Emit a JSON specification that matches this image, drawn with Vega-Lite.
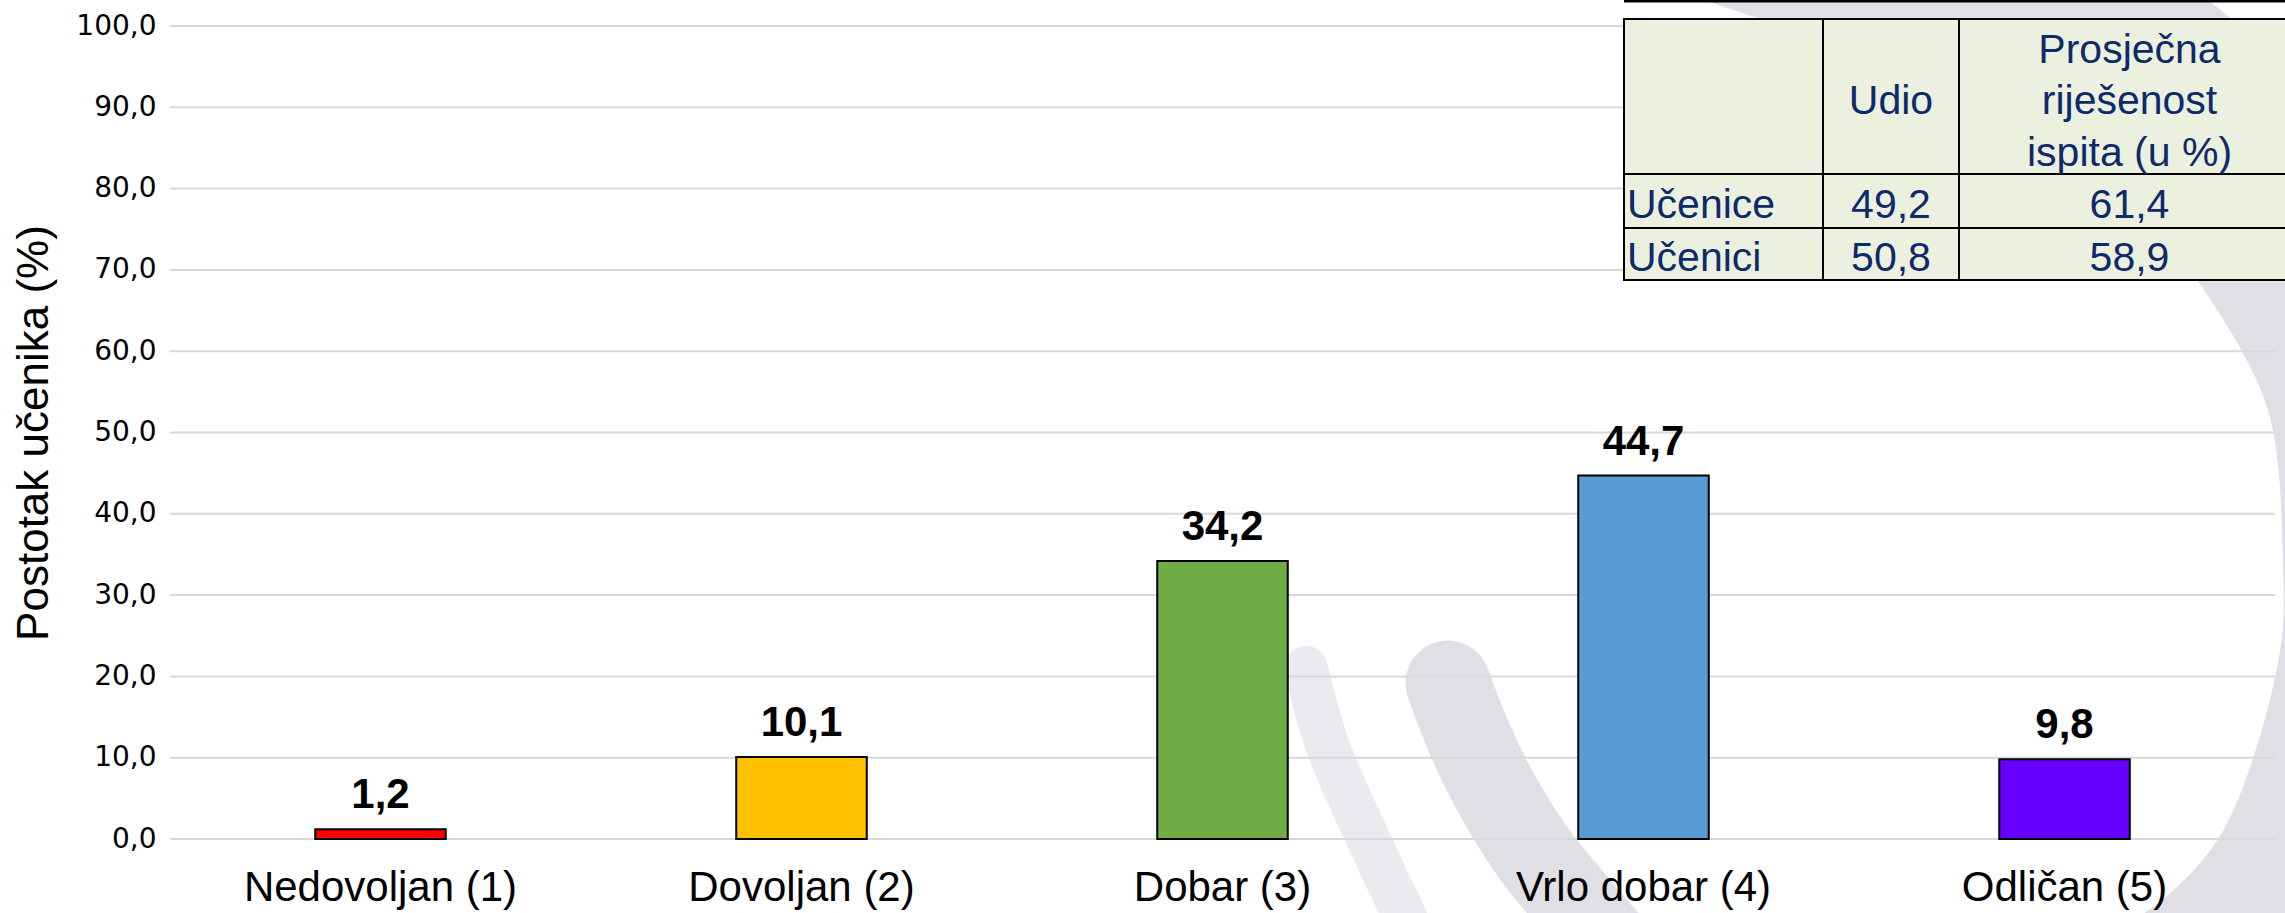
{
  "$schema": "https://vega.github.io/schema/vega-lite/v6.json",
  "width": 2105,
  "height": 813,
  "autosize": {"type": "none"},
  "padding": {"left": 170, "top": 26, "right": 10, "bottom": 74},
  "background": "white",
  "config": {
    "view": {"stroke": null},
    "locale": {"number": {"decimal": ",", "thousands": ".", "grouping": [3], "currency": ["", " €"]}}
  },
  "datasets": {
    "grades": [
      {"ocjena": "Nedovoljan (1)", "postotak": 1.2},
      {"ocjena": "Dovoljan (2)", "postotak": 10.1},
      {"ocjena": "Dobar (3)", "postotak": 34.2},
      {"ocjena": "Vrlo dobar (4)", "postotak": 44.7},
      {"ocjena": "Odličan (5)", "postotak": 9.8}
    ],
    "gridlines": [
      {"v": 0}, {"v": 10}, {"v": 20}, {"v": 30}, {"v": 40}, {"v": 50},
      {"v": 60}, {"v": 70}, {"v": 80}, {"v": 90}, {"v": 100}
    ],
    "wmA": [
      {"i": 0, "x": 1448, "y": 683},
      {"i": 1, "x": 1470, "y": 740},
      {"i": 2, "x": 1500, "y": 800},
      {"i": 3, "x": 1535, "y": 855},
      {"i": 4, "x": 1580, "y": 910},
      {"i": 5, "x": 1610, "y": 945}
    ],
    "wmB": [
      {"i": 0, "x": 1306, "y": 668},
      {"i": 1, "x": 1328, "y": 747},
      {"i": 2, "x": 1372, "y": 847},
      {"i": 3, "x": 1403, "y": 913},
      {"i": 4, "x": 1425, "y": 960}
    ],
    "wmC": [
      {"i": 0, "x": 1650, "y": -130},
      {"i": 1, "x": 1750, "y": -90},
      {"i": 2, "x": 1993, "y": -10},
      {"i": 3, "x": 2163, "y": 92},
      {"i": 4, "x": 2275, "y": 217},
      {"i": 5, "x": 2363, "y": 379},
      {"i": 6, "x": 2383, "y": 562},
      {"i": 7, "x": 2377, "y": 678},
      {"i": 8, "x": 2310, "y": 880},
      {"i": 9, "x": 2221, "y": 981},
      {"i": 10, "x": 2100, "y": 1050}
    ],
    "cells": [
      {"c0": 0, "c1": 1, "r0": 0, "r1": 1},
      {"c0": 1, "c1": 2, "r0": 0, "r1": 1},
      {"c0": 2, "c1": 3, "r0": 0, "r1": 1},
      {"c0": 0, "c1": 1, "r0": 1, "r1": 2},
      {"c0": 1, "c1": 2, "r0": 1, "r1": 2},
      {"c0": 2, "c1": 3, "r0": 1, "r1": 2},
      {"c0": 0, "c1": 1, "r0": 2, "r1": 3},
      {"c0": 1, "c1": 2, "r0": 2, "r1": 3},
      {"c0": 2, "c1": 3, "r0": 2, "r1": 3}
    ],
    "topline": [{"c0": 0, "c1": 3, "r": -1}],
    "centerText": [
      {"tekst": "Udio", "col": 1.5, "row": 0.5},
      {"tekst": "49,2", "col": 1.5, "row": 1.5},
      {"tekst": "61,4", "col": 2.5, "row": 1.5},
      {"tekst": "50,8", "col": 1.5, "row": 2.5},
      {"tekst": "58,9", "col": 2.5, "row": 2.5}
    ],
    "headerText": [
      {"tekst": "Prosječna\nriješenost\nispita (u %)", "col": 2.5, "row": 0.5}
    ],
    "rowText": [
      {"tekst": "Učenice", "col": 0, "row": 1.5},
      {"tekst": "Učenici", "col": 0, "row": 2.5}
    ]
  },
  "layer": [
    {
      "data": {"name": "wmC"},
      "mark": {"type": "line", "interpolate": "catmull-rom", "strokeCap": "round", "strokeJoin": "round", "color": "#DFDFE5", "strokeWidth": 200},
      "encoding": {
        "x": {"field": "x", "type": "quantitative", "scale": {"domain": [0, 2285], "range": [-170, 2115], "zero": false, "nice": false}, "axis": null},
        "y": {"field": "y", "type": "quantitative", "scale": {"domain": [0, 913], "range": [-26, 887], "zero": false, "nice": false}, "axis": null},
        "order": {"field": "i", "type": "quantitative"}
      }
    },
    {
      "data": {"name": "wmB"},
      "mark": {"type": "line", "interpolate": "catmull-rom", "strokeCap": "round", "strokeJoin": "round", "color": "#EBEBEF", "strokeWidth": 44},
      "encoding": {
        "x": {"field": "x", "type": "quantitative", "scale": {"domain": [0, 2285], "range": [-170, 2115], "zero": false, "nice": false}, "axis": null},
        "y": {"field": "y", "type": "quantitative", "scale": {"domain": [0, 913], "range": [-26, 887], "zero": false, "nice": false}, "axis": null},
        "order": {"field": "i", "type": "quantitative"}
      }
    },
    {
      "data": {"name": "wmA"},
      "mark": {"type": "line", "interpolate": "catmull-rom", "strokeCap": "round", "strokeJoin": "round", "color": "#DFDFE5", "strokeWidth": 85},
      "encoding": {
        "x": {"field": "x", "type": "quantitative", "scale": {"domain": [0, 2285], "range": [-170, 2115], "zero": false, "nice": false}, "axis": null},
        "y": {"field": "y", "type": "quantitative", "scale": {"domain": [0, 913], "range": [-26, 887], "zero": false, "nice": false}, "axis": null},
        "order": {"field": "i", "type": "quantitative"}
      }
    },
    {
      "encoding": {
        "y": {
          "field": "postotak", "type": "quantitative",
          "scale": {"domain": [0, 100], "nice": false},
          "axis": {
            "values": [0, 10, 20, 30, 40, 50, 60, 70, 80, 90, 100],
            "format": ".1f", "zindex": 1,
            "domain": false, "ticks": false, "grid": false,
            "labelFont": "DejaVu Sans", "labelFontSize": 28, "labelColor": "#000000", "labelPadding": 14,
            "title": "Postotak učenika (%)",
            "titleFont": "Liberation Sans, Arial, sans-serif",
            "titleFontSize": 44, "titleFontWeight": "normal", "titleColor": "#000000", "titlePadding": 19
          }
        }
      },
      "layer": [
        {
          "data": {"name": "gridlines"},
          "mark": {"type": "rule", "color": "#D9D9D9", "strokeWidth": 2},
          "encoding": {"y": {"field": "v", "type": "quantitative"}}
        },
        {
          "data": {"name": "grades"},
          "encoding": {
            "x": {
              "field": "ocjena", "type": "nominal", "sort": null,
              "scale": {"paddingInner": 0.69, "paddingOuter": 0.345},
              "axis": {
                "title": null, "domain": false, "ticks": false, "labelAngle": 0, "labelLimit": 0, "zindex": 1,
                "labelFont": "Liberation Sans, Arial, sans-serif",
                "labelFontSize": 42, "labelColor": "#000000", "labelPadding": 28
              }
            }
          },
          "layer": [
            {
              "mark": {"type": "bar", "stroke": "#000000", "strokeWidth": 2},
              "encoding": {
                "color": {
                  "field": "ocjena", "type": "nominal", "legend": null,
                  "scale": {
                    "domain": ["Nedovoljan (1)", "Dovoljan (2)", "Dobar (3)", "Vrlo dobar (4)", "Odličan (5)"],
                    "range": ["#FF0000", "#FFC000", "#70AD47", "#5B9BD5", "#6600FF"]
                  }
                }
              }
            },
            {
              "mark": {
                "type": "text", "fontWeight": "bold", "fontSize": 42,
                "font": "Liberation Sans, Arial, sans-serif",
                "baseline": "alphabetic", "dy": -21, "color": "#000000"
              },
              "encoding": {"text": {"field": "postotak", "type": "quantitative", "format": ".1f"}}
            }
          ]
        }
      ]
    },
    {
      "data": {"name": "cells"},
      "mark": {"type": "rect", "fill": "#EBF1DE", "stroke": "#000000", "strokeWidth": 2},
      "encoding": {
        "x": {"field": "c0", "type": "quantitative", "scale": {"domain": [0, 1, 2, 3], "range": [1454, 1653, 1789, 2130], "zero": false, "nice": false}, "axis": null},
        "x2": {"field": "c1"},
        "y": {"field": "r0", "type": "quantitative", "scale": {"domain": [-1, 0, 1, 2, 3], "range": [-25, -7, 148, 202, 254], "zero": false, "nice": false}, "axis": null},
        "y2": {"field": "r1"}
      }
    },
    {
      "data": {"name": "topline"},
      "mark": {"type": "rule", "stroke": "#000000", "strokeWidth": 3},
      "encoding": {
        "x": {"field": "c0", "type": "quantitative", "scale": {"domain": [0, 1, 2, 3], "range": [1454, 1653, 1789, 2130], "zero": false, "nice": false}, "axis": null},
        "x2": {"field": "c1"},
        "y": {"field": "r", "type": "quantitative", "scale": {"domain": [-1, 0, 1, 2, 3], "range": [-25, -7, 148, 202, 254], "zero": false, "nice": false}, "axis": null}
      }
    },
    {
      "data": {"name": "centerText"},
      "mark": {
        "type": "text", "align": "center", "baseline": "alphabetic", "dy": 17,
        "font": "Liberation Sans, Arial, sans-serif",
        "fontSize": 41, "color": "#0D2A6B"
      },
      "encoding": {
        "x": {"field": "col", "type": "quantitative", "scale": {"domain": [0, 1, 2, 3], "range": [1454, 1653, 1789, 2130], "zero": false, "nice": false}, "axis": null},
        "y": {"field": "row", "type": "quantitative", "scale": {"domain": [-1, 0, 1, 2, 3], "range": [-25, -7, 148, 202, 254], "zero": false, "nice": false}, "axis": null},
        "text": {"field": "tekst", "type": "nominal"}
      }
    },
    {
      "data": {"name": "headerText"},
      "mark": {
        "type": "text", "align": "center", "baseline": "alphabetic", "dy": -34, "lineBreak": "\n", "lineHeight": 51.5,
        "font": "Liberation Sans, Arial, sans-serif",
        "fontSize": 41, "color": "#0D2A6B"
      },
      "encoding": {
        "x": {"field": "col", "type": "quantitative", "scale": {"domain": [0, 1, 2, 3], "range": [1454, 1653, 1789, 2130], "zero": false, "nice": false}, "axis": null},
        "y": {"field": "row", "type": "quantitative", "scale": {"domain": [-1, 0, 1, 2, 3], "range": [-25, -7, 148, 202, 254], "zero": false, "nice": false}, "axis": null},
        "text": {"field": "tekst", "type": "nominal"}
      }
    },
    {
      "data": {"name": "rowText"},
      "mark": {
        "type": "text", "align": "left", "baseline": "alphabetic", "dy": 17, "dx": 3,
        "font": "Liberation Sans, Arial, sans-serif",
        "fontSize": 41, "color": "#0D2A6B"
      },
      "encoding": {
        "x": {"field": "col", "type": "quantitative", "scale": {"domain": [0, 1, 2, 3], "range": [1454, 1653, 1789, 2130], "zero": false, "nice": false}, "axis": null},
        "y": {"field": "row", "type": "quantitative", "scale": {"domain": [-1, 0, 1, 2, 3], "range": [-25, -7, 148, 202, 254], "zero": false, "nice": false}, "axis": null},
        "text": {"field": "tekst", "type": "nominal"}
      }
    }
  ],
  "resolve": {"scale": {"x": "independent", "y": "independent", "color": "independent"}}
}
